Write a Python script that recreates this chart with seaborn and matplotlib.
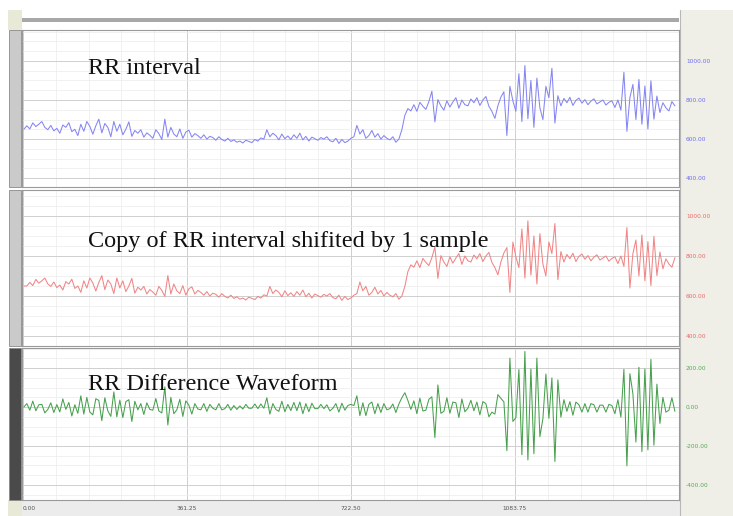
import numpy as np
import matplotlib
matplotlib.use("Agg")
import matplotlib.pyplot as plt
import seaborn as sns
from matplotlib.patches import Rectangle
from matplotlib.ticker import MultipleLocator

sns.set_style("white")

# RR interval (ms)
rr = [
    650, 668, 652, 683, 664, 676, 690, 660, 648, 670,
    642, 655, 630, 672, 660, 684, 638, 650, 618, 676,
    640, 690, 665, 625, 668, 702, 632, 680, 660, 612,
    690, 640, 676, 622, 650, 688, 614, 644, 630, 648,
    610, 632, 620, 604, 648, 628, 598, 702, 610, 660,
    626, 612, 652, 604, 636, 646, 610, 628, 618, 604,
    622, 600, 614, 608, 594, 612, 598, 590, 604, 588,
    596, 584, 590, 580, 594, 588, 582, 598, 590, 606,
    600, 648, 612, 630, 618, 596, 626, 602, 616, 598,
    622, 604, 630, 596, 614, 590, 610, 602, 594, 608,
    600, 612, 592, 586, 604, 578, 598, 582, 590, 604,
    612, 670, 626, 648, 604, 618, 644, 610, 628, 600,
    618, 604, 596, 612, 584, 600, 648, 722, 756, 744,
    776, 742, 788, 768, 752, 792, 845, 688, 802, 770,
    748, 796, 764, 790, 812, 758, 800, 776, 770, 805,
    786, 812, 772, 800, 818, 768, 742, 706, 770, 815,
    842, 618, 870, 796, 742, 935, 690, 976, 704, 900,
    660, 912, 760, 700, 870, 812, 962, 682, 822, 770,
    808, 786, 814, 772, 798, 810, 784, 802, 776, 794,
    806, 780, 790, 800, 774, 788, 796, 762, 800, 748,
    942, 640, 812, 880, 700, 905, 676, 872, 652, 898,
    702, 820, 736, 786, 760, 744, 792, 770,
]
rr = np.array(rr, dtype=float)
t = np.linspace(2, 1436, len(rr))

# copy shifted by one sample, and the difference
rr_shift = np.concatenate([[rr[0]], rr[:-1]])
rr_diff = rr - rr_shift

titles = ["RR interval", "Copy of RR interval shifited by 1 sample", "RR Difference Waveform"]
title_y = [68, 242, 385]
series = [rr, rr_shift, rr_diff]
colors = ["#8585f3", "#f18585", "#46a04c"]
label_colors = ["#6e6ef0", "#ec6a6a", "#55aa55"]
yticks = [[400, 600, 800, 1000], [400, 600, 800, 1000], [-400, -200, 0, 200]]
ylims = [(355, 1158), (350, 1130), (-478, 304)]
xticks = [0, 361.25, 722.50, 1083.75]

W, H = 733, 516
fig = plt.figure(figsize=(W / 100, H / 100), dpi=100)
fig.patch.set_facecolor("white")


def fx(px):
    return px / W


def fy(py):
    return 1 - py / H


def box(x0, y0, x1, y1, fc, ec="none", lw=0):
    fig.patches.append(Rectangle((fx(x0), fy(y1)), fx(x1) - fx(x0), fy(y0) - fy(y1),
                                 transform=fig.transFigure, facecolor=fc, edgecolor=ec,
                                 linewidth=lw, zorder=-5))


# surrounding chrome
box(680, 10, 733, 516, "#efefe8")
box(22, 500, 680, 516, "#ececec")
box(8, 10, 22, 30, "#e9e9d8")
box(8, 500, 22, 516, "#e9e9d8")
box(22, 18, 679, 22, "#a8a8a8")

panels = [(30, 187), (190, 346), (348, 500)]
strip_colors = ["#cacaca", "#cacaca", "#4a4a4a"]

for k, (top, bot) in enumerate(panels):
    box(9, top, 21, bot, strip_colors[k], ec="#8a8a8a", lw=0.6)
    ax = fig.add_axes([fx(22), fy(bot), fx(657), fy(top) - fy(bot)])
    ax.set_zorder(3)
    ax.set_facecolor("white")
    sns.lineplot(x=t, y=series[k], ax=ax, color=colors[k], linewidth=0.75,
                 estimator=None, sort=False)
    ax.set_xlim(-2, 1445)
    ax.set_ylim(*ylims[k])
    ax.xaxis.set_major_locator(MultipleLocator(361.25))
    ax.xaxis.set_minor_locator(MultipleLocator(72.25))
    ax.set_yticks(yticks[k])
    ax.yaxis.set_minor_locator(MultipleLocator(50))
    ax.grid(which="major", color="#cfcfcf", linewidth=0.7)
    ax.grid(which="minor", color="#ececec", linewidth=0.5)
    ax.set_axisbelow(True)
    ax.yaxis.tick_right()
    ax.set_yticklabels([f"{v:.2f}" for v in yticks[k]], fontsize=4.2, color=label_colors[k])
    ax.tick_params(axis="y", which="both", length=0, pad=5)
    ax.tick_params(axis="x", which="both", length=0)
    ax.set_xticklabels([])
    ax.set_xlabel("")
    ax.set_ylabel("")
    for s in ax.spines.values():
        s.set_color("#9a9a9a")
        s.set_linewidth(0.8)
    if k == 2:
        ax.set_xticks(xticks)
        ax.set_xticklabels([f"{v:.2f}" for v in xticks], fontsize=4.2, color="#555555")
        ax.tick_params(axis="x", pad=4)
        ax.get_xticklabels()[0].set_horizontalalignment("left")

for k in range(3):
    fig.text(fx(88), fy(title_y[k]), titles[k], fontsize=17.5, family="Liberation Serif",
             color="#111111", va="center", zorder=10)

fig.add_artist(plt.Line2D([fx(679.5), fx(679.5)], [0, fy(10)], transform=fig.transFigure,
                          color="#b8b8b8", linewidth=0.8))

fig.savefig("out.png", dpi=100)
